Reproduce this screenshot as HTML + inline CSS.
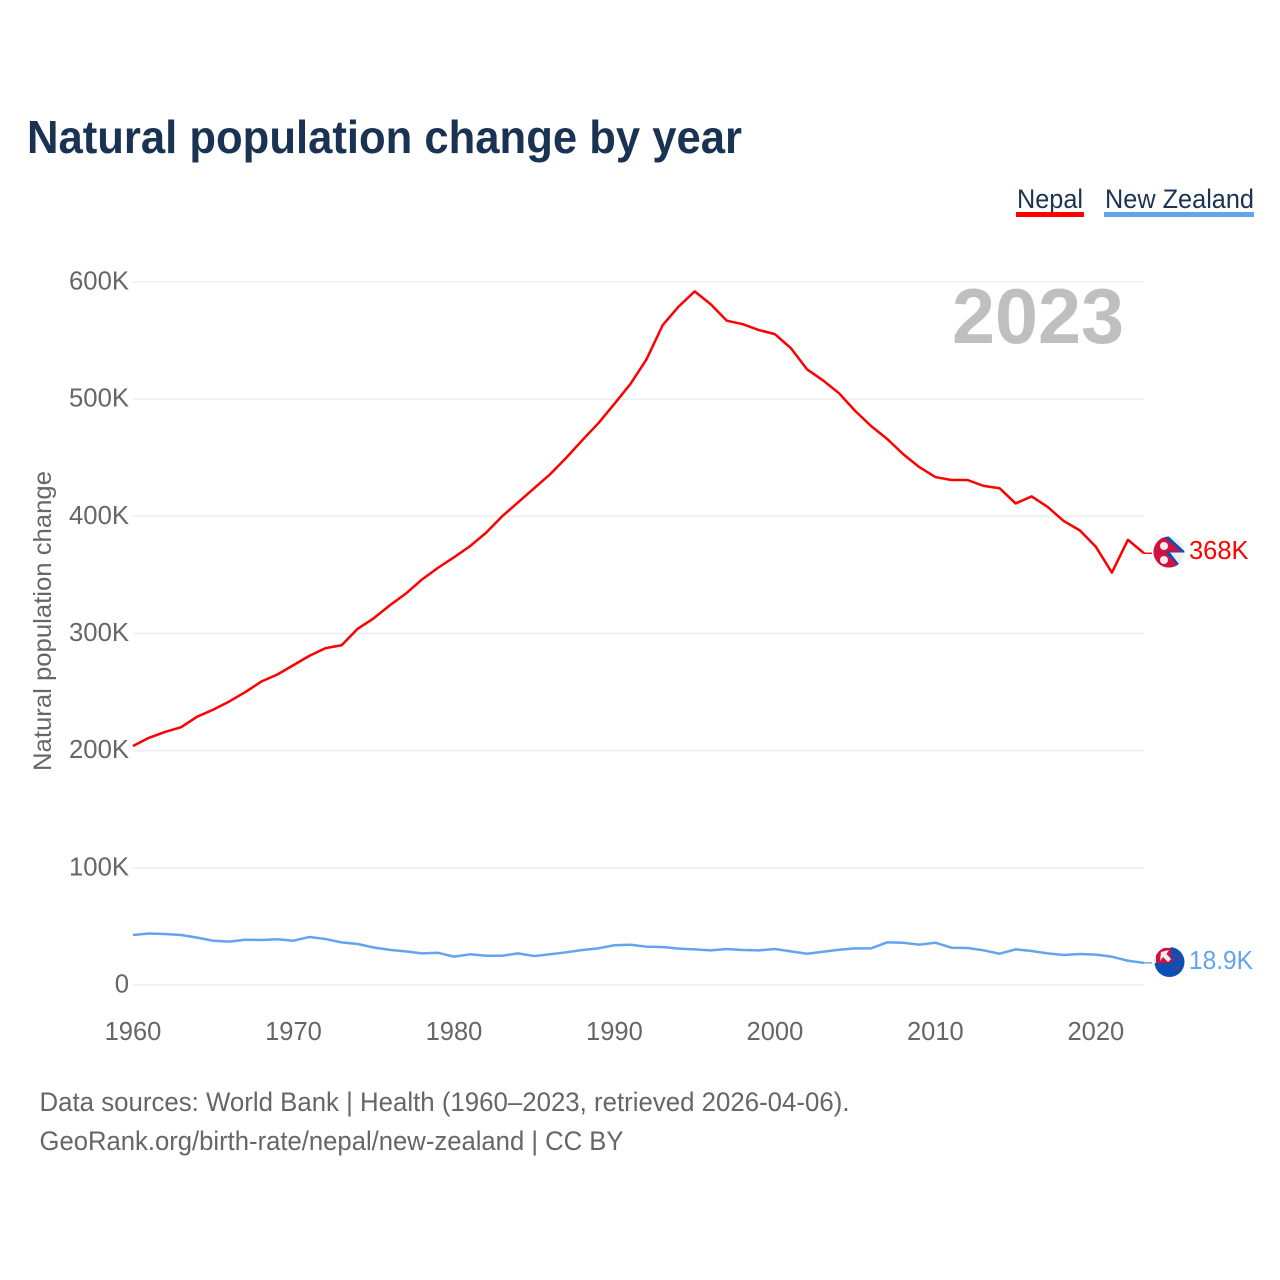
<!DOCTYPE html>
<html lang="en">
<head>
<meta charset="utf-8">
<title>Natural population change by year</title>
<style>
html,body{margin:0;padding:0;background:#fff;}
svg{display:block;font-family:"Liberation Sans",sans-serif;}
</style>
</head>
<body>
<svg id="chart" xmlns="http://www.w3.org/2000/svg" width="1280" height="1280" viewBox="0 0 1280 1280">
  <defs>
    <clipPath id="clip-np"><circle cx="1169" cy="552" r="15.5"/></clipPath>
    <clipPath id="clip-nz"><circle cx="1169.5" cy="962" r="15"/></clipPath>
  </defs>
  <rect width="1280" height="1280" fill="#fff"/>
  <text x="27" y="153" font-size="46" font-weight="700" fill="#1a3353" textLength="715" lengthAdjust="spacingAndGlyphs">Natural population change by year</text>

  <g>
    <text x="1017" y="208" font-size="26.5" fill="#1a3353" textLength="66" lengthAdjust="spacingAndGlyphs">Nepal</text>
    <rect x="1016" y="212" width="68" height="5" fill="#ff0000"/>
  </g>
  <g>
    <text x="1105" y="208" font-size="26.5" fill="#1a3353" textLength="149" lengthAdjust="spacingAndGlyphs">New Zealand</text>
    <rect x="1104" y="212" width="150" height="5" fill="#62a5ee"/>
  </g>

  <g id="grid"></g>
  <g id="yticks"></g>
  <g id="xticks"></g>

  <text transform="translate(51,621) rotate(-90)" text-anchor="middle" font-size="25" fill="#666" textLength="300" lengthAdjust="spacingAndGlyphs">Natural population change</text>
  <text x="952" y="343" font-size="78" font-weight="700" fill="#bfbfbf" textLength="172" lengthAdjust="spacingAndGlyphs">2023</text>

  <g id="series"></g>

  <g clip-path="url(#clip-np)">
    <rect x="1153" y="536" width="32" height="32" fill="#eeeeee"/>
    <polygon points="1153,534 1166,534 1186,552.5 1170,552.5 1182,568 1153,570" fill="#0c4fb5"/>
    <polygon points="1152,532 1164,537 1181,551.5 1165,551.5 1178,566 1152,570" fill="#d80f3a"/>
    <circle cx="1164" cy="546" r="4" fill="#eee"/>
    <circle cx="1164" cy="560" r="4" fill="#eee"/>
  </g>
  <text x="1189" y="559" font-size="25.5" fill="#ff0000">368K</text>

  <g clip-path="url(#clip-nz)">
    <rect x="1154" y="946" width="32" height="32" fill="#0c4fb5"/>
    <rect x="1154" y="946" width="17" height="17" fill="#eeeeee"/>
    <rect x="1156" y="948" width="15" height="15" fill="#d80f3a"/>
    <polygon points="1161,952 1169,950 1166.5,954 1171,959 1168,962 1163,957 1160,961" fill="#eeeeee"/>
    <circle cx="1176" cy="955" r="1.1" fill="#d80f3a"/>
    <circle cx="1173" cy="960" r="1.3" fill="#d80f3a"/>
    <circle cx="1180" cy="959" r="1" fill="#d80f3a"/>
    <circle cx="1177" cy="968" r="1.4" fill="#d80f3a"/>
  </g>
  <text x="1189" y="969" font-size="25.5" fill="#62a5ee" textLength="64" lengthAdjust="spacingAndGlyphs">18.9K</text>

  <text x="39.5" y="1111" font-size="26.5" fill="#666" textLength="810" lengthAdjust="spacingAndGlyphs">Data sources: World Bank | Health (1960–2023, retrieved 2026-04-06).</text>
  <text x="39.5" y="1150" font-size="26.5" fill="#666" textLength="584" lengthAdjust="spacingAndGlyphs">GeoRank.org/birth-rate/nepal/new-zealand | CC BY</text>
</svg>
<script>
const firstYear = 1960;
const xTickYears = [1960, 1970, 1980, 1990, 2000, 2010, 2020];
const yTickValues = [0, 100, 200, 300, 400, 500, 600];
const yTickLabels = ["0", "100K", "200K", "300K", "400K", "500K", "600K"];
const nepalValues = [204, 211, 216, 220, 229, 235, 242, 250, 259, 265, 273, 281, 287.5, 290, 304, 313, 324, 334, 346, 356, 365, 374.5, 386, 400, 412, 424, 436, 450, 465, 479.5, 496, 513, 534, 563, 579, 592, 581, 567, 564, 559, 555.5, 543.5, 525.5, 516, 505, 490, 477, 466, 453, 442, 433.5, 431, 431, 426, 424, 411, 417, 408, 396, 388, 374, 352, 380, 368.5];
const newZealandValues = [42.7, 44, 43.5, 42.7, 40.4, 37.8, 37, 38.6, 38.4, 39, 37.8, 41, 39.2, 36.4, 35, 32, 30, 28.7, 27, 27.5, 24.2, 26.2, 25, 25, 27, 24.7, 26.2, 27.9, 29.9, 31.3, 33.9, 34.4, 32.7, 32.4, 31, 30.4, 29.6, 30.7, 29.9, 29.6, 30.7, 28.7, 26.7, 28.4, 30.1, 31.3, 31.3, 36.4, 36.1, 34.4, 36.1, 31.8, 31.6, 29.6, 26.7, 30.4, 29, 27, 25.6, 26.5, 25.9, 24.2, 20.7, 18.9];

const NS = "http://www.w3.org/2000/svg";
function xScale(year) { return 133 + (year - 1960) * (1144 - 133) / 63; }
function yScale(value) { return 985 - value * (985 - 282) / 600; }
function linePoints(values) {
  return values.map(function (v, i) {
    return xScale(firstYear + i).toFixed(2) + "," + yScale(v).toFixed(2);
  }).join(" ");
}

const gridGroup = document.getElementById("grid");
const yTickGroup = document.getElementById("yticks");
const xTickGroup = document.getElementById("xticks");
const seriesGroup = document.getElementById("series");

yTickValues.forEach(function (value, i) {
  const line = document.createElementNS(NS, "line");
  
  
  line.setAttribute("x1", xScale(1960));
  line.setAttribute("x2", xScale(2023));
  line.setAttribute("y1", yScale(value));
  line.setAttribute("y2", yScale(value));
  line.setAttribute("stroke", "#eeeeee");
  line.setAttribute("stroke-width", "1.6");
  gridGroup.appendChild(line);

  const label = document.createElementNS(NS, "text");
  
  
  label.setAttribute("x", 129);
  label.setAttribute("y", yScale(value) + 7.5);
  label.setAttribute("text-anchor", "end");
  label.setAttribute("font-size", "25.7");
  label.setAttribute("fill", "#666");
  label.textContent = yTickLabels[i];
  yTickGroup.appendChild(label);
});

xTickYears.forEach(function (year) {
  const label = document.createElementNS(NS, "text");
  
  
  label.setAttribute("x", xScale(year));
  label.setAttribute("y", 1040);
  label.setAttribute("text-anchor", "middle");
  label.setAttribute("font-size", "25.5");
  label.setAttribute("fill", "#666");
  label.textContent = String(year);
  xTickGroup.appendChild(label);
});

const nepalLine = document.createElementNS(NS, "polyline");


nepalLine.setAttribute("points", linePoints(nepalValues));
nepalLine.setAttribute("fill", "none");
nepalLine.setAttribute("stroke", "#ff0000");
nepalLine.setAttribute("stroke-width", "2.5");
nepalLine.setAttribute("stroke-linejoin", "round");
seriesGroup.appendChild(nepalLine);

const nzLine = document.createElementNS(NS, "polyline");


nzLine.setAttribute("points", linePoints(newZealandValues));
nzLine.setAttribute("fill", "none");
nzLine.setAttribute("stroke", "#62a5ee");
nzLine.setAttribute("stroke-width", "2.5");
nzLine.setAttribute("stroke-linejoin", "round");
seriesGroup.appendChild(nzLine);

const nepalConnector = document.createElementNS(NS, "line");


nepalConnector.setAttribute("x1", xScale(2023));
nepalConnector.setAttribute("x2", xScale(2023) + 8);
nepalConnector.setAttribute("y1", yScale(nepalValues[nepalValues.length - 1]));
nepalConnector.setAttribute("y2", yScale(nepalValues[nepalValues.length - 1]));
nepalConnector.setAttribute("stroke", "#ff0000");
nepalConnector.setAttribute("stroke-width", "1.4");
seriesGroup.appendChild(nepalConnector);

const nzConnector = document.createElementNS(NS, "line");


nzConnector.setAttribute("x1", xScale(2023));
nzConnector.setAttribute("x2", xScale(2023) + 8);
nzConnector.setAttribute("y1", yScale(newZealandValues[newZealandValues.length - 1]));
nzConnector.setAttribute("y2", yScale(newZealandValues[newZealandValues.length - 1]));
nzConnector.setAttribute("stroke", "#62a5ee");
nzConnector.setAttribute("stroke-width", "1.4");
seriesGroup.appendChild(nzConnector);
</script>
</body>
</html>
